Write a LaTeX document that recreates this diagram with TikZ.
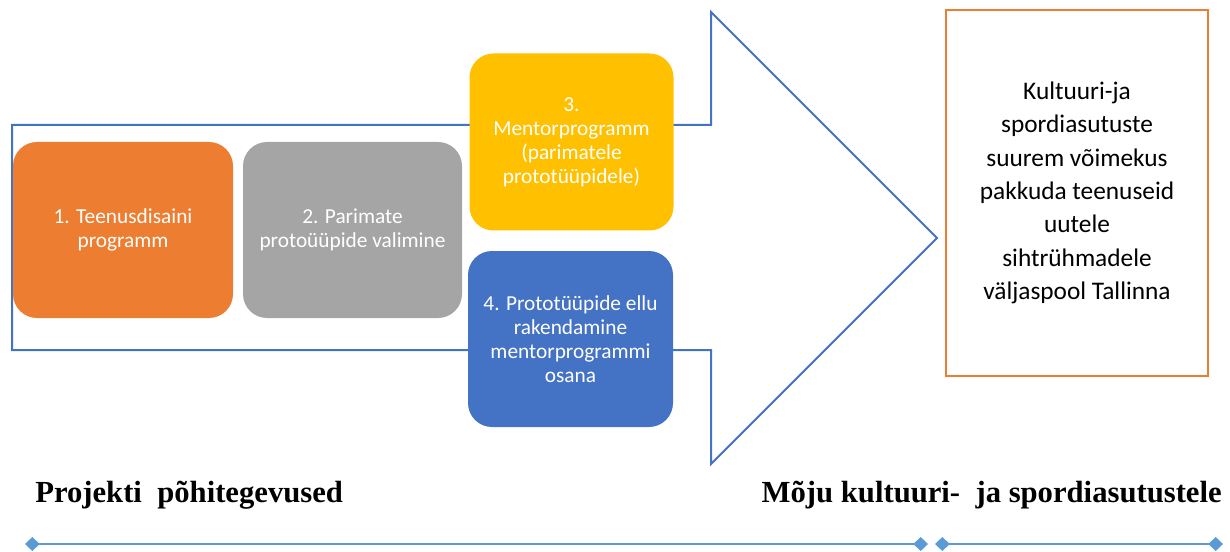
\documentclass[tikz,border=0pt]{standalone}
\usepackage{fontspec}
\setmainfont{Carlito}
\newfontfamily\headfont{Liberation Serif}
\usepackage{xcolor}
\usepackage{tikz}
\usetikzlibrary{arrows.meta}
\definecolor{orangeacc}{HTML}{ED7D31}
\definecolor{grayacc}{HTML}{A5A5A5}
\definecolor{goldacc}{HTML}{FFC000}
\definecolor{blueacc}{HTML}{4472C4}
\definecolor{lineblue}{HTML}{5B9BD5}
\tikzset{
  stagebox/.style={rounded corners=18pt, text=white, align=center, inner sep=4pt,
    font=\fontsize{16}{18}\selectfont},
  outbox/.style={draw=orangeacc, line width=2pt, align=center, inner sep=0pt,
    minimum width=196.5pt, minimum height=274.5pt, font=\fontsize{19}{25}\selectfont},
  bigarrow/.style={draw=blueacc, line width=1.5pt, line join=miter},
  timeline/.style={draw=lineblue, line width=2.2pt,
    {Diamond[length=11pt,width=10.5pt]}-{Diamond[length=11pt,width=10.5pt]}},
  head/.style={inner sep=0pt, font=\headfont\bfseries\fontsize{23}{26}\selectfont},
}
\begin{document}
\begin{tikzpicture}[x=0.75pt,y=-0.75pt]
  \useasboundingbox (0,0) rectangle (1230,552);

  % big arrow behind the stages
  \draw[bigarrow] (12,125) -- (711,125) -- (711,12) -- (937,238)
    -- (711,464) -- (711,350) -- (12,350) -- cycle;

  \node[stagebox, fill=orangeacc, minimum width=165pt, minimum height=132pt] (s1)
    at (123,230) {1. Teenusdisaini\\programm};
  \node[stagebox, fill=grayacc, minimum width=164.25pt, minimum height=132pt] (s2)
    at (352.5,230) {2. Parimate\\protoüüpide valimine};
  \node[stagebox, fill=goldacc, minimum width=153pt, minimum height=132.75pt] (s3)
    at (571.5,142) {3.\\Mentorprogramm\\(parimatele\\prototüüpidele)};
  \node[stagebox, fill=blueacc, minimum width=153.75pt, minimum height=132pt] (s4)
    at (570.5,339) {4. Prototüüpide ellu\\rakendamine\\mentorprogrammi\\osana};

  \node[outbox] (impact) at (1077,193) {Kultuuri-ja\\spordiasutuste\\suurem võimekus\\pakkuda teenuseid\\uutele\\sihtrühmadele\\väljaspool Tallinna};

  \node[head, anchor=base west] (lefthead) at (35,502) {Projekti\ \ põhitegevused};
  \node[head, anchor=base east] (righthead) at (1222,502) {Mõju kultuuri-\ \ ja spordiasutustele};

  \coordinate (ta) at (25,544);
  \coordinate (tb) at (928,544);
  \coordinate (tc) at (935,544);
  \coordinate (td) at (1223,544);
  \draw[timeline] (ta) -- (tb);
  \draw[timeline] (tc) -- (td);
\end{tikzpicture}
\end{document}
